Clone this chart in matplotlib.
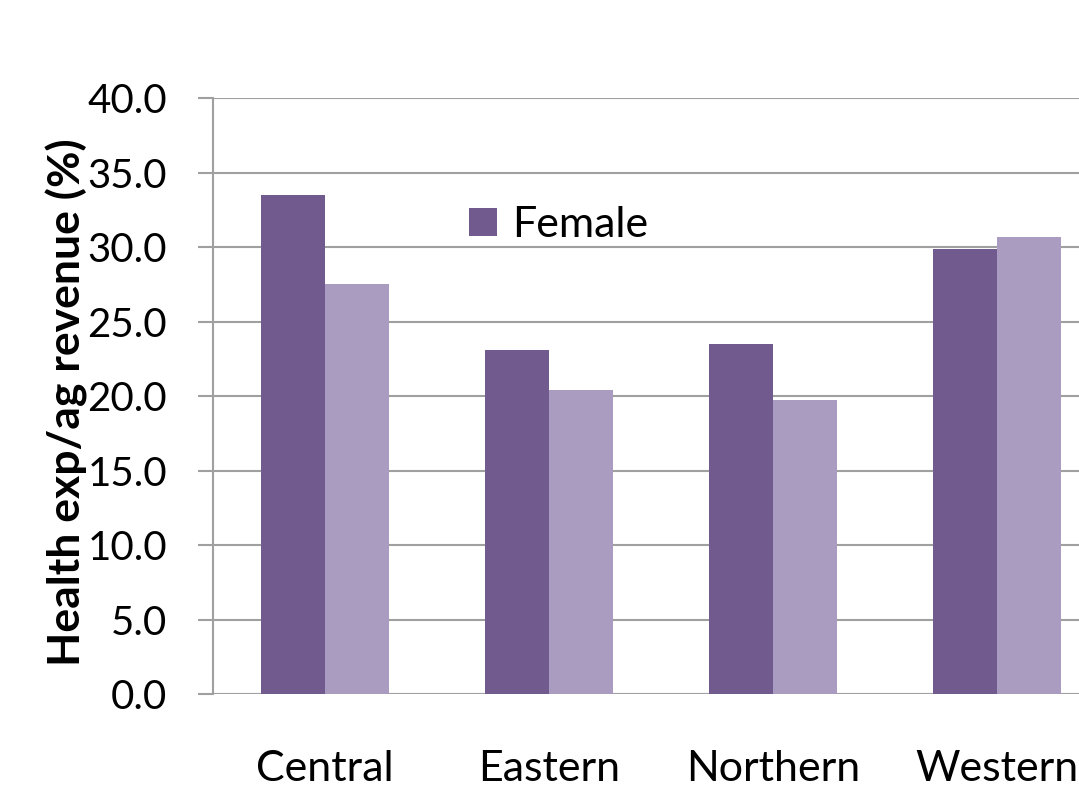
import matplotlib.pyplot as plt
import numpy as np

# Datos
regiones = ['Central', 'Eastern', 'Northern', 'Western']
female = [33.5, 23.1, 23.5, 29.9]
male = [27.5, 20.4, 19.7, 30.7]
yticks = np.arange(0, 40.1, 5)

c_oscuro = '#715A8E'
c_claro = '#AA9BC0'
c_gris = '#A0A0A0'

plt.rcParams['font.family'] = ['Lato', 'DejaVu Sans']

fig = plt.figure(figsize=(10.79, 7.97), dpi=100)
ax = fig.add_axes([0.1974, 0.1292, 0.8306, 0.7478])

x = np.arange(len(regiones))
ancho = 0.286
ax.bar(x - ancho / 2, female, ancho, color=c_oscuro, label='Female', zorder=3)
ax.bar(x + ancho / 2, male, ancho, color=c_claro, zorder=3)

ax.set_xlim(-0.5, 3.5)
ax.set_ylim(0, 40)
ax.set_yticks(yticks)
ax.set_yticklabels(['%.1f' % v for v in yticks], fontsize=29)
ax.set_xticks(x)
ax.set_xticklabels(regiones, fontsize=31)

ax.yaxis.grid(True, color=c_gris, linewidth=1.5, zorder=0)
ax.set_axisbelow(True)
ax.tick_params(axis='y', length=11, width=1.5, color=c_gris, pad=22)
ax.tick_params(axis='x', length=0, pad=40)

for lado in ['top', 'right', 'bottom']:
    ax.spines[lado].set_visible(False)
ax.spines['left'].set_color(c_gris)
ax.spines['left'].set_linewidth(1.5)

ax.set_ylabel('Health exp/ag revenue (%)', fontsize=32, fontweight='bold')
ax.yaxis.set_label_coords(-0.14, 0.49)

ax.legend(loc='center left', bbox_to_anchor=(0.4347, 0.7177),
          bbox_transform=fig.transFigure, frameon=False, fontsize=31,
          handlelength=0.65, handleheight=0.65, handletextpad=0.34,
          borderpad=0, borderaxespad=0)

plt.savefig('out.png', dpi=100)
